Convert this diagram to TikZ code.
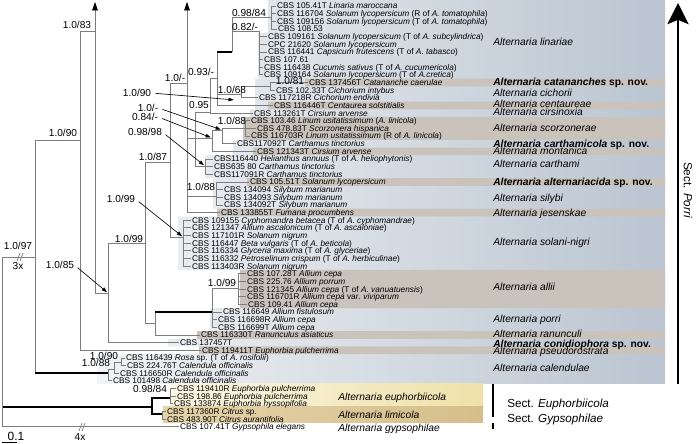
\documentclass[tikz,border=0pt]{standalone}
\usepackage{fontspec}
\setmainfont{Liberation Sans}[ItalicFont={Liberation Sans Italic}, BoldFont={Liberation Sans Bold}, BoldItalicFont={Liberation Sans Bold Italic}]
\usetikzlibrary{arrows.meta,calc}

\definecolor{branchgray}{RGB}{125,125,125}
\definecolor{bandgray}{RGB}{201,195,188}
\definecolor{panelL}{RGB}{241,243,245}
\definecolor{panelR}{RGB}{186,197,209}
\definecolor{euphL}{RGB}{250,246,228}
\definecolor{euphR}{RGB}{239,225,170}
\definecolor{limiL}{RGB}{228,212,170}
\definecolor{limiR}{RGB}{214,190,140}

\tikzset{
  br/.style={draw=branchgray, line width=0.5pt},
  thickbr/.style={draw=black, line width=1.5pt},
  tipup/.style={-{Triangle[color=black,width=4pt,length=6pt]}},
  taxon/.style={anchor=west, inner xsep=0.6pt, inner ysep=0pt, text height=4.2pt, text depth=0pt, font=\fontsize{5.9}{6}\selectfont},
  support/.style={inner sep=0pt, font=\fontsize{7.2}{8}\selectfont},
  spname/.style={anchor=west, inner sep=0pt, text height=5.2pt, text depth=0pt, font=\fontsize{7.3}{8}\selectfont\itshape},
  sect/.style={inner sep=0pt, text height=5.9pt, text depth=0pt, font=\fontsize{8.3}{9}\selectfont},
  pointer/.style={draw=black, line width=0.45pt, -{Triangle[width=2.6pt,length=3.6pt]}, shorten <=3pt, shorten >=1pt},
}

\begin{document}
\begin{tikzpicture}[x=0.025cm, y=-0.025cm]
    \useasboundingbox (0,0) rectangle (696,444);

    % Fond de la section Porri (degrade)
    \shade[left color=panelL, right color=panelR]
      \foreach \l/\t/\b in {268/0/32.775, 258/32.775/78.675, 255/78.675/109.275,
        250/109.275/116.925, 243/116.925/139.875, 233/139.875/155.175,
        205/155.175/178.125, 213/178.125/208.725, 217/208.725/216.375,
        178/216.375/269.925, 240/269.925/308.175, 210/308.175/331.125,
        197/331.125/338.775, 168/338.775/346.425, 199/346.425/354.075,
        97/354.075/384} {(\l,\t) rectangle (665,\b)};

    % Bandes grises
    \fill[bandgray]
      \foreach \l/\t/\b in {305/78.675/86.325, 268/101.625/109.275,
        243/116.925/139.875, 253/147.525/155.175, 247/178.125/185.775,
        217/208.725/216.375, 240/269.925/308.175, 197/331.125/338.775,
        199/346.425/354.075} {(\l,\t) rectangle (665,\b)};

    % Euphorbiicola et limicola
    \shade[left color=euphL, right color=euphR] (171,384) rectangle (483,407);
    \shade[left color=limiL, right color=limiR] (163,407) rectangle (483,423);

    % Noeuds de l'arbre
    \coordinate (ceil) at (0,2);
    \coordinate (root) at (2,257);
    \coordinate (porri) at (35,257);
    \coordinate (n80) at (80,140);
    \coordinate (n95) at (95,31);
    \coordinate (n108) at (108,293);
    \coordinate (n145) at (145,243);
    \coordinate (n155) at (155,323);
    \coordinate (nP) at (212,312);
    \coordinate (allii) at (238,288);
    \coordinate (n170) at (170,162);
    \coordinate (sn) at (183,237);
    \coordinate (a187) at (187,83);
    \coordinate (m195) at (195,138);
    \coordinate (q210) at (210,112);
    \coordinate (L) at (217,78);
    \coordinate (lin) at (232,52);
    \coordinate (b271) at (271,17);
    \coordinate (c262) at (259,31);
    \coordinate (c68) at (241,94);
    \coordinate (c81) at (270,86);
    \coordinate (qq) at (212,138);
    \coordinate (R) at (222,130);
    \coordinate (sc) at (245,128);
    \coordinate (cth) at (205,166);
    \coordinate (sil) at (216,196);
    \coordinate (cal) at (108,373);
    \coordinate (cal2) at (114,369);
    \coordinate (cal3) at (121,362);
    \coordinate (euli) at (152,407);
    \coordinate (eu) at (170,398);
    \coordinate (li) at (162,414);

    % Branches internes
    \draw[br] (root) |- (porri);
    \draw[thickbr] (root |- euli) -- (euli);
    \draw[br] (porri) |- (n80);
    \draw[br] (porri) -- (porri |- cal);
    \draw[thickbr] (porri |- cal) -- (cal);
    \draw[br] (n80) |- (n95);
    \draw[br, tipup] (n95) -- (n95 |- ceil);
    \draw[br] (n95) |- (n108);
    \draw[br] (n108) |- (n145);
    \draw[br] (n145) |- (n170);
    \draw[br] (n145) |- (n155);
    \draw[br] (n155) -- (n155 |- nP);
    \draw[thickbr] (n155 |- nP) -- (nP);
    \draw[br] (nP) |- (allii);
    \draw[br] (n170) |- (a187);
    \draw[br] (n170) |- (sn);
    \draw[br, tipup] (a187) -- (a187 |- ceil);
    \draw[br] (a187) |- (m195);
    \draw[br] (a187) |- (sil);
    \draw[br] (m195) |- (q210);
    \draw[br] (m195) -- (qq);
    \draw[br] (m195) |- (cth);
    \draw[br] (q210) |- (L);
    \draw[br] (L) -- (L |- lin);
    \draw[thickbr] (L |- lin) -- (lin);
    \draw[br] (L) |- (c68);
    \draw[br] (lin) |- (b271);
    \draw[br] (lin) |- (c262);
    \draw[br] (c68) |- (c81);
    \draw[br] (qq) |- (R);
    \draw[br] (R) |- (sc);
    \draw[br] (cal) |- (cal2);
    \draw[br] (cal2) |- (cal3);
    \draw[thickbr] (euli) |- (eu);
    \draw[thickbr] (euli) |- (li);

    % Souches
    \foreach \i/\x/\p/\txt in {
      0/276/b271/{CBS 105.41T \textit{Linaria maroccana}},
      1/276/b271/{CBS 116704 \textit{Solanum lycopersicum} (R of \textit{A. tomatophila})},
      2/276/b271/{CBS 109156 \textit{Solanum lycopersicum} (T of \textit{A. tomatophila})},
      3/277/b271/{CBS 108.53},
      4/267/c262/{CBS 109161 \textit{Solanum lycopersicum} (T of \textit{A. subcylindrica})},
      5/267/c262/{CPC 21620 \textit{Solanum lycopersicum}},
      6/267/c262/{CBS 116441 \textit{Capsicum frutescens} (T of \textit{A. tabasco})},
      7/263/c262/{CBS 107.61},
      8/263/c262/{CBS 116438 \textit{Cucumis sativus} (T of \textit{A. cucumericola})},
      9/263/c262/{CBS 109164 \textit{Solanum lycopersicum} (T of \textit{A.cretica})},
      10/308/c81/{CBS 137456T \textit{Catananche caerulae}},
      11/275/c81/{CBS 102.33T \textit{Cichorium intybus}},
      12/258/c68/{CBS 117218R \textit{Cichorium endivia}},
      13/273/L/{CBS 116446T \textit{Centaurea solstitialis}},
      14/253/q210/{CBS 113261T \textit{Cirsium arvense}},
      15/250/sc/{CBS 103.46 \textit{Linum usitatissimum} (\textit{A. linicola})},
      16/256/sc/{CBS 478.83T \textit{Scorzonera hispanica}},
      17/250/sc/{CBS 116703R \textit{Linum usitatissimum} (R of \textit{A. linicola})},
      18/236/R/{CBS117092T \textit{Carthamus tinctorius}},
      19/256/qq/{CBS 121343T \textit{Cirsium arvense}},
      20/213/cth/{CBS116440 \textit{Helianthus annuus} (T of \textit{A. heliophytonis})},
      21/213/cth/{CBS635 80 \textit{Carthamus tinctorius}},
      22/213/cth/{CBS117091R \textit{Carthamus tinctorius}},
      23/249/sil/{CBS 105.51T \textit{Solanum lycopersicum}},
      24/223/sil/{CBS 134094 \textit{Silybum marianum}},
      25/223/sil/{CBS 134093 \textit{Silybum marianum}},
      26/223/sil/{CBS 134092T \textit{Silybum marianum}},
      27/220/a187/{CBS 133855T \textit{Fumana procumbens}},
      28/191/sn/{CBS 109155 \textit{Cyphomandra betacea} (T of \textit{A. cyphomandrae})},
      29/191/sn/{CBS 121347 \textit{Allium ascalonicum} (T of \textit{A. ascaloniae})},
      30/191/sn/{CBS 117101R \textit{Solanum nigrum}},
      31/191/sn/{CBS 116447 \textit{Beta vulgaris} (T of \textit{A. beticola})},
      32/191/sn/{CBS 116334 \textit{Glyceria maxima} (T of \textit{A. glyceriae})},
      33/191/sn/{CBS 116332 \textit{Petroselinum crispum} (T of \textit{A. herbiculinae})},
      34/191/sn/{CBS 113403R \textit{Solanum nigrum}},
      35/246/allii/{CBS 107.28T \textit{Allium cepa}},
      36/246/allii/{CBS 225.76 \textit{Allium porrum}},
      37/246/allii/{CBS 121345 \textit{Allium cepa} (T of \textit{A. vanuatuensis})},
      38/246/allii/{CBS 116701R \textit{Allium cepa} var. \textit{viviparum}},
      39/247/allii/{CBS 109.41 \textit{Allium cepa}},
      40/222/nP/{CBS 116649 \textit{Allium fistulosum}},
      41/217/nP/{CBS 116698R \textit{Allium cepa}},
      42/217/nP/{CBS 116699T \textit{Allium cepa}},
      43/200/n155/{CBS 116330T \textit{Ranunculus asiaticus}},
      44/179/n108/{CBS 137457T},
      45/201/n80/{CBS 119411T \textit{Euphorbia pulcherrima}},
      46/125/cal3/{CBS 116439 \textit{Rosa} sp. (T of \textit{A. rosifolii})},
      47/126/cal3/{CBS 224.76T \textit{Calendula officinalis}},
      48/119/cal2/{CBS 116650R \textit{Calendula officinalis}},
      49/112/cal/{CBS 101498 \textit{Calendula officinalis}},
      50/176/eu/{CBS 119410R \textit{Euphorbia pulcherrima}},
      51/176/eu/{CBS 198.86 \textit{Euphorbia pulcherrima}},
      52/173/eu/{CBS 133874 \textit{Euphorbia hyssopifolia}},
      53/166/li/{CBS 117360R \textit{Citrus} sp.},
      54/166/li/{CBS 483.90T \textit{Citrus aurantifolia}},
      55/179/root/{CBS 107.41T \textit{Gypsophila elegans}}}{
      \node[taxon] (t\i) at (\x,{6+7.65*\i}) {\txt};
      \draw[br] (\p) |- (t\i.west);
    }

    % Branches raccourcies
    \draw[br] (17,261) -- (20,253) (20,261) -- (23,253);
    \draw[br] (79,431) -- (82,423) (82,431) -- (85,423);
    \node[support] (x3) at (18,266) {3x};
    \node[support] (x4) at (80,437) {4x};

    % Supports des noeuds
    \foreach \n/\x/\y/\txt in {
      s83/77/25/{1.0/83}, s90a/63/133/{1.0/90}, s97/18/246/{1.0/97},
      s87/153/157/{1.0/87}, s99b/129/239/{1.0/99}, s99c/222/283/{1.0/99},
      s1a/175/78/{1.0/-}, s93/201/72/{0.93/-}, s9884a/249/13/{0.98/84},
      s82/245/27/{0.82/-}, s81/290/81/{1.0/81}, s68/232/90/{1.0/68},
      s95/199/105/{0.95}, s88a/232/121/{1.0/88}, s88b/201/187/{1.0/88},
      s90c/104/356/{1.0/90}, s88c/96/363/{1.0/88}, s9884b/150/389/{0.98/84}}{
      \node[support] (\n) at (\x,\y) {\txt};
    }

    % Supports avec fleches
    \node[support] (p90) at (137,93) {1.0/90};
    \node[support] (p1) at (148,108) {1.0/-};
    \node[support] (p84) at (145,117) {0.84/-};
    \node[support] (p98) at (145,132) {0.98/98};
    \node[support] (p99) at (121,199) {1.0/99};
    \node[support] (p85) at (60,265) {1.0/85};
    \draw[pointer] (p90.east) -- ($(c68)+(-6,6)$);
    \draw[pointer] (p1.east) -- (R);
    \draw[pointer] (p84.east) -- (qq);
    \draw[pointer] (p98.east) -- (cth);
    \draw[pointer] (p99.east) -- (sn);
    \draw[pointer] (p85.east) -- (n108);

    % Especes
    \foreach \n/\x/\y/\txt in {
      linariae/493/42/{Alternaria linariae},
      catananches/493/82/{\textbf{Alternaria catananches} \textbf{\upshape sp. nov.}},
      cichorii/493/93/{Alternaria cichorii},
      centaureae/493/104/{Alternaria centaureae},
      cirsinoxia/493/112/{Alternaria cirsinoxia},
      scorzonerae/493/128/{Alternaria scorzonerae},
      carthamicola/493/144/{\textbf{Alternaria carthamicola} \textbf{\upshape sp. nov.}},
      montanica/493/151/{Alternaria montanica},
      carthami/493/164/{Alternaria carthami},
      alternariacida/493/182/{\textbf{Alternaria alternariacida} \textbf{\upshape sp. nov.}},
      silybi/493/198/{Alternaria silybi},
      jesenskae/493/213/{Alternaria jesenskae},
      solaninigri/493/242/{Alternaria solani-nigri},
      allii/493/287/{Alternaria allii},
      porri/493/319/{Alternaria porri},
      ranunculi/493/334/{Alternaria ranunculi},
      conidiophora/493/344/{\textbf{Alternaria conidiophora} \textbf{\upshape sp. nov.}},
      pseudorostrata/493/351/{Alternaria pseudorostrata},
      calendulae/493/368/{Alternaria calendulae},
      euphorbiicola/338/397/{Alternaria euphorbiicola},
      limicola/338/415/{Alternaria limicola},
      gypsophilae/338/428/{Alternaria gypsophilae}}{
      \node[spname] (sp\n) at (\x,\y) {\txt};
    }

    % Sections
    \draw[line width=1.9pt, -{Stealth[length=15pt,width=15pt,inset=3pt]}] (678,384) -- (678,3);
    \node[sect, rotate=-90] (secporri) at (688,190) {Sect. \textit{Porri}};
    \draw[line width=1.6pt] (493,384) -- (493,417);
    \draw[line width=1.6pt] (493,423) -- (493,429);
    \node[sect, anchor=west] (seceuph) at (507,403) {Sect. \textit{Euphorbiicola}};
    \node[sect, anchor=west] (secgyps) at (507,418) {Sect. \textit{Gypsophilae}};

    % Echelle
    \draw[line width=0.6pt] (2,442.5) coordinate (sb0) -- (17,442.5) coordinate (sb1);
    \node[support, font=\fontsize{8.5}{9}\selectfont] (sblab) at (16,436) {0.1};
\end{tikzpicture}
\end{document}
